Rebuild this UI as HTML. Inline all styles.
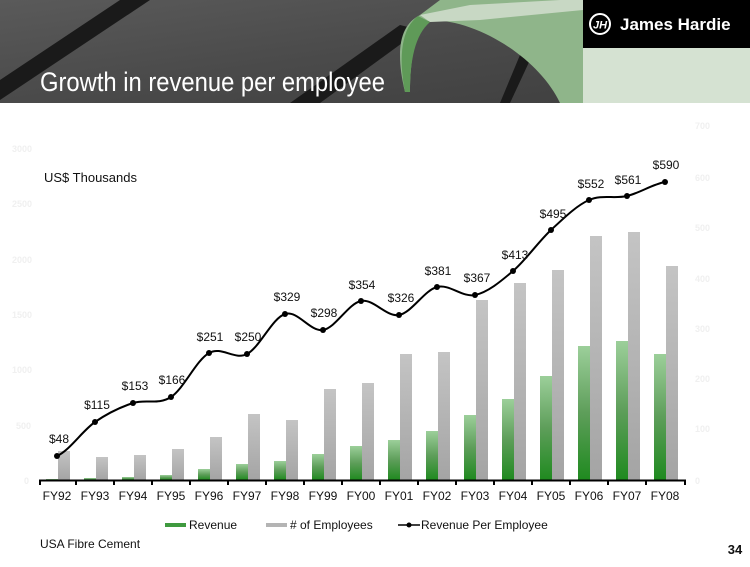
<!DOCTYPE html>
<html><head><meta charset="utf-8"><style>
body{margin:0;width:750px;height:562px;overflow:hidden;background:#fff;font-family:"Liberation Sans",Arial,sans-serif}
</style></head><body>
<svg width="750" height="562" xmlns="http://www.w3.org/2000/svg" font-family="Liberation Sans, Arial, sans-serif">
<defs>
<linearGradient id="hd" x1="0" y1="0" x2="1" y2="1"><stop offset="0" stop-color="#5a5a5a"/><stop offset="0.5" stop-color="#4a4a4a"/><stop offset="1" stop-color="#3e3e3e"/></linearGradient>
<linearGradient id="gr" x1="0" y1="0" x2="0" y2="1"><stop offset="0" stop-color="#9ccf9a"/><stop offset="0.5" stop-color="#5e9e5a"/><stop offset="1" stop-color="#1f8a1f"/></linearGradient>
<linearGradient id="gy" x1="0" y1="0" x2="0" y2="1"><stop offset="0" stop-color="#c4c4c4"/><stop offset="1" stop-color="#a4a4a4"/></linearGradient>
</defs>
<rect x="0" y="0" width="750" height="103" fill="url(#hd)"/>
<polygon points="0,80 0,100 150,0 120,0" fill="#1a1a1a"/>
<polygon points="290,103 320,103 420,30 400,25" fill="#1a1a1a"/>
<polygon points="500,103 510,103 530,60 520,55" fill="#1a1a1a"/>
<path d="M405,92 C395,50 400,25 420,15 L440,0 L583,0 L583,103 L560,103 C540,60 480,20 430,20 C415,30 410,60 410,92 Z" fill="#8fb58a"/>
<path d="M405,92 C398,55 402,28 418,16 L430,22 C415,35 410,60 410,92 Z" fill="#5f9a58"/>
<path d="M420,15 L470,5 L560,0 L583,0 L583,10 L480,20 L430,22 Z" fill="#c8d8c4"/>
<rect x="583" y="0" width="167" height="48" fill="#000"/>
<rect x="583" y="48" width="167" height="55" fill="#d5e2d2"/>
<circle cx="600" cy="24" r="10" fill="none" stroke="#fff" stroke-width="2"/>
<text x="600" y="28.5" font-size="11" fill="#fff" text-anchor="middle" font-weight="bold" font-style="italic">JH</text>
<text x="620" y="30" font-size="17" font-weight="bold" fill="#fff">James Hardie</text>
<text x="40" y="91" font-size="27" fill="#fff" textLength="345" lengthAdjust="spacingAndGlyphs">Growth in revenue per employee</text>
<g font-size="9" fill="#f0f0f0" font-weight="bold">
<text x="12" y="152">3000</text><text x="12" y="207">2500</text><text x="12" y="263">2000</text><text x="12" y="318">1500</text><text x="12" y="373">1000</text><text x="16" y="429">500</text><text x="24" y="484">0</text>
<text x="695" y="129">700</text><text x="695" y="181">600</text><text x="695" y="231">500</text><text x="695" y="282">400</text><text x="695" y="332">300</text><text x="695" y="382">200</text><text x="695" y="432">100</text><text x="695" y="484">0</text>
</g>
<text x="44" y="182" font-size="13" fill="#111">US$ Thousands</text>
<g fill="url(#gy)">
<rect x="58" y="451" width="12" height="29"/><rect x="96" y="457" width="12" height="23"/><rect x="134" y="455" width="12" height="25"/><rect x="172" y="449" width="12" height="31"/><rect x="210" y="437" width="12" height="43"/><rect x="248" y="414" width="12" height="66"/><rect x="286" y="420" width="12" height="60"/><rect x="324" y="389" width="12" height="91"/><rect x="362" y="383" width="12" height="97"/><rect x="400" y="354" width="12" height="126"/><rect x="438" y="352" width="12" height="128"/><rect x="476" y="300" width="12" height="180"/><rect x="514" y="283" width="12" height="197"/><rect x="552" y="270" width="12" height="210"/><rect x="590" y="236" width="12" height="244"/><rect x="628" y="232" width="12" height="248"/><rect x="666" y="266" width="12" height="214"/>
</g>
<g fill="url(#gr)">
<rect x="46" y="479" width="12" height="1"/><rect x="84" y="478" width="12" height="2"/><rect x="122" y="477" width="12" height="3"/><rect x="160" y="475" width="12" height="5"/><rect x="198" y="469" width="12" height="11"/><rect x="236" y="464" width="12" height="16"/><rect x="274" y="461" width="12" height="19"/><rect x="312" y="454" width="12" height="26"/><rect x="350" y="446" width="12" height="34"/><rect x="388" y="440" width="12" height="40"/><rect x="426" y="431" width="12" height="49"/><rect x="464" y="415" width="12" height="65"/><rect x="502" y="399" width="12" height="81"/><rect x="540" y="376" width="12" height="104"/><rect x="578" y="346" width="12" height="134"/><rect x="616" y="341" width="12" height="139"/><rect x="654" y="354" width="12" height="126"/>
</g>
<line x1="39" y1="480.5" x2="686" y2="480.5" stroke="#000" stroke-width="2"/>
<g stroke="#000" stroke-width="2">
<line x1="40" y1="480" x2="40" y2="485"/><line x1="76" y1="480" x2="76" y2="485"/><line x1="114" y1="480" x2="114" y2="485"/><line x1="152" y1="480" x2="152" y2="485"/><line x1="190" y1="480" x2="190" y2="485"/><line x1="228" y1="480" x2="228" y2="485"/><line x1="266" y1="480" x2="266" y2="485"/><line x1="304" y1="480" x2="304" y2="485"/><line x1="342" y1="480" x2="342" y2="485"/><line x1="380" y1="480" x2="380" y2="485"/><line x1="418" y1="480" x2="418" y2="485"/><line x1="456" y1="480" x2="456" y2="485"/><line x1="494" y1="480" x2="494" y2="485"/><line x1="532" y1="480" x2="532" y2="485"/><line x1="570" y1="480" x2="570" y2="485"/><line x1="608" y1="480" x2="608" y2="485"/><line x1="646" y1="480" x2="646" y2="485"/><line x1="685" y1="480" x2="685" y2="485"/>
</g>
<g font-size="12" fill="#111" text-anchor="middle">
<text x="57" y="500">FY92</text><text x="95" y="500">FY93</text><text x="133" y="500">FY94</text><text x="171" y="500">FY95</text><text x="209" y="500">FY96</text><text x="247" y="500">FY97</text><text x="285" y="500">FY98</text><text x="323" y="500">FY99</text><text x="361" y="500">FY00</text><text x="399" y="500">FY01</text><text x="437" y="500">FY02</text><text x="475" y="500">FY03</text><text x="513" y="500">FY04</text><text x="551" y="500">FY05</text><text x="589" y="500">FY06</text><text x="627" y="500">FY07</text><text x="665" y="500">FY08</text>
</g>
<path fill="none" stroke="#000" stroke-width="2" d="M57,456 C69.7,450.3 82.3,430.8 95,422 C107.7,413.2 120.3,407.2 133,403 C145.7,398.8 158.3,405.3 171,397 C183.7,388.7 196.3,360.2 209,353 C221.7,345.8 234.3,360.5 247,354 C259.7,347.5 272.3,318 285,314 C297.7,310 310.3,332.2 323,330 C335.7,327.8 348.3,303.5 361,301 C373.7,298.5 386.3,317.3 399,315 C411.7,312.7 424.3,290.3 437,287 C449.7,283.7 462.3,297.7 475,295 C487.7,292.3 500.3,281.8 513,271 C525.7,260.2 538.3,241.8 551,230 C563.7,218.2 576.3,205.7 589,200 C601.7,194.3 614.3,199 627,196 C639.7,193 652.3,184.3 665,182"/>
<g fill="#000">
<circle cx="57" cy="456" r="3"/><circle cx="95" cy="422" r="3"/><circle cx="133" cy="403" r="3"/><circle cx="171" cy="397" r="3"/><circle cx="209" cy="353" r="3"/><circle cx="247" cy="354" r="3"/><circle cx="285" cy="314" r="3"/><circle cx="323" cy="330" r="3"/><circle cx="361" cy="301" r="3"/><circle cx="399" cy="315" r="3"/><circle cx="437" cy="287" r="3"/><circle cx="475" cy="295" r="3"/><circle cx="513" cy="271" r="3"/><circle cx="551" cy="230" r="3"/><circle cx="589" cy="200" r="3"/><circle cx="627" cy="196" r="3"/><circle cx="665" cy="182" r="3"/>
</g>
<g font-size="12" fill="#111" text-anchor="middle">
<text x="59" y="443">$48</text><text x="97" y="409">$115</text><text x="135" y="390">$153</text><text x="172" y="384">$166</text><text x="210" y="341">$251</text><text x="248" y="341">$250</text><text x="287" y="301">$329</text><text x="324" y="317">$298</text><text x="362" y="289">$354</text><text x="401" y="302">$326</text><text x="438" y="275">$381</text><text x="477" y="282">$367</text><text x="515" y="259">$413</text><text x="553" y="218">$495</text><text x="591" y="188">$552</text><text x="628" y="184">$561</text><text x="666" y="169">$590</text>
</g>
<rect x="165" y="523" width="21" height="4" fill="#3f9a3f"/>
<text x="189" y="529" font-size="12" fill="#111">Revenue</text>
<rect x="266" y="523" width="21" height="4" fill="#b4b4b4"/>
<text x="290" y="529" font-size="12" fill="#111"># of Employees</text>
<line x1="398" y1="525" x2="420" y2="525" stroke="#000" stroke-width="1.5"/><circle cx="409" cy="525" r="2.5"/>
<text x="421" y="529" font-size="12" fill="#111">Revenue Per Employee</text>
<text x="40" y="548" font-size="12" fill="#111">USA Fibre Cement</text>
<text x="735" y="554" font-size="13" font-weight="bold" fill="#111" text-anchor="middle">34</text>
</svg>
</body></html>
